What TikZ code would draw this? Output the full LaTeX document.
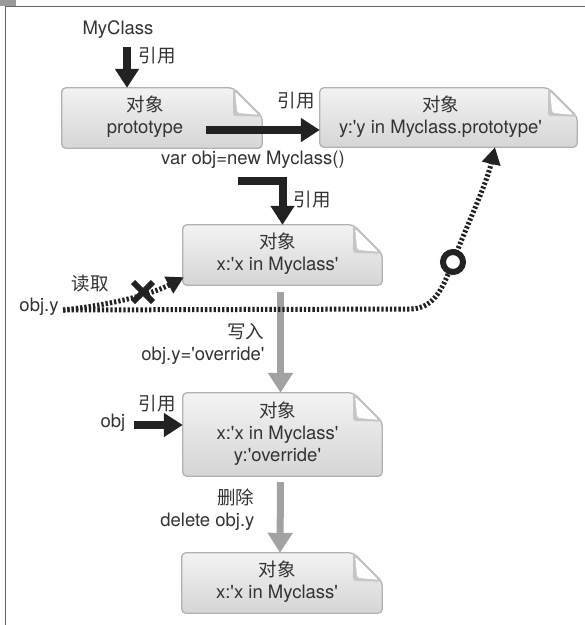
\documentclass[tikz,border=0pt]{standalone}
\usepackage{fontspec}
\setmainfont{TeX Gyre Heros}[Ligatures=TeXOff]
\newfontfamily\cjk{Noto Sans CJK SC}[Scale=1.0]
\usetikzlibrary{arrows.meta,calc,backgrounds,shapes.misc}

\definecolor{ink}{HTML}{222222}
\definecolor{txt}{HTML}{333333}
\definecolor{boxtop}{HTML}{F3F3F3}
\definecolor{boxbot}{HTML}{D5D5D5}
\definecolor{boxline}{HTML}{B2B2B2}
\definecolor{flow}{HTML}{A2A2A2}
\definecolor{framecol}{HTML}{666666}
\definecolor{tabcol}{HTML}{9A9A9A}

\newcommand\zh[1]{{\cjk #1}}
% centred lines of a note, pushed left by half of #2
\newcommand\objlines[2]{\begin{tabular}{@{}c@{}}#1\end{tabular}\hspace*{#2}}
% note sheet with a folded top-right corner behind node #1
\newcommand\docshape[1]{%
  \shadedraw[top color=boxtop, bottom color=boxbot, draw=boxline,
             line width=1.3pt, rounded corners=4pt]
    (#1.south west) -- (#1.north west) -- ([xshift=-29pt]#1.north east)
    -- ([yshift=-29pt]#1.north east) -- (#1.south east) -- cycle;
  \fill[gray!45, rounded corners=2pt]
    ([xshift=-29pt]#1.north east) -- ([xshift=-29pt,yshift=-28pt]#1.north east)
    -- ([yshift=-29pt]#1.north east) -- cycle;
  \fill[white, rounded corners=2pt]
    ([xshift=-27pt,yshift=-4pt]#1.north east) -- ([xshift=-25pt,yshift=-25pt]#1.north east)
    -- ([xshift=-4pt,yshift=-27pt]#1.north east) -- cycle;
}

\tikzset{
  every node/.style={font=\fontsize{18.5}{22}\selectfont, text=txt},
  objbox/.style={inner sep=0pt, minimum height=60pt},
  refarrow/.style={line width=8pt, draw=ink, -{Triangle[width=23pt,length=19pt]}},
  flowarrow/.style={line width=7pt, draw=flow, -{Triangle[width=24pt,length=20pt]}},
  dotline/.style={line width=5pt, draw=ink, dash pattern=on 2.3pt off 2pt},
  dottip/.style={-{Triangle[width=18pt,length=17pt]}},
  ring/.style={circle, draw=ink, fill=white, line width=6pt, minimum size=20pt, inner sep=0pt},
  crossmark/.style={cross out, draw=ink, line width=6pt, minimum size=14pt, inner sep=0pt},
}

\begin{document}
\begin{tikzpicture}[x=1pt, y=-1pt]
\useasboundingbox (0,0) rectangle (585,625);

% frame
\fill[tabcol] (0,0) rectangle (16,6);
\draw[framecol, line width=1.8pt] (5.5,625) -- (5.5,6.5) -- (585,6.5);

% notes
\node[objbox, minimum width=200pt] (proto) at (162,118)
  {\objlines{\zh{对象}\\prototype}{34pt}};
\node[objbox, minimum width=257pt, minimum height=59pt] (protoobj) at (448.5,117.5)
  {\objlines{\zh{对象}\\y:'y in Myclass.prototype'}{16pt}};
\node[objbox, minimum width=199pt] (obj1) at (282.5,255)
  {\objlines{\zh{对象}\\x:'x in Myclass'}{10pt}};
\node[objbox, minimum width=199pt, minimum height=83pt] (obj2) at (282.5,434.5)
  {\objlines{\zh{对象}\\x:'x in Myclass'\\y:'override'}{10pt}};
\node[objbox, minimum width=200pt] (obj3) at (282,583)
  {\objlines{\zh{对象}\\x:'x in Myclass'}{10pt}};

\begin{scope}[on background layer]
  \docshape{proto}
  \docshape{protoobj}
  \docshape{obj1}
  \docshape{obj2}
  \docshape{obj3}
\end{scope}

% labels
\node (myclass) at (118,30) {MyClass};
\node (ref1) at (157,56) {\zh{引用}};
\node (ref2) at (296,101) {\zh{引用}};
\node (newcall) at (253,160) {var obj=new Myclass()};
\node (ref3) at (312,200) {\zh{引用}};
\node (readlbl) at (90,284) {\zh{读取}};
\node (objy) at (39,307) {obj.y};
\node[align=right, anchor=east] (write) at (268,344) {\zh{写入}\\obj.y='override'};
\node (ref4) at (157,404) {\zh{引用}};
\node (objref) at (113,423) {obj};
\node[align=right, anchor=east] (del) at (258,510) {\zh{删除}\\delete obj.y};

% reference arrows
\draw[refarrow] ([xshift=9pt,yshift=-5pt]myclass.south) -- ([xshift=9pt]myclass.south |- proto.north);
\draw[refarrow] ([xshift=44pt,yshift=-12pt]proto.center) -- ([yshift=-12pt]proto.center -| protoobj.west);
\draw[refarrow] ([xshift=-15pt,yshift=-21pt]newcall.center) -| (obj1.north);
\draw[refarrow] ([xshift=5pt,yshift=-2pt]objref.east) -- ([yshift=-2pt]objref.east -| obj2.west);

% state changes
\draw[flowarrow] ([xshift=-2pt,yshift=-7pt]obj1.south) -- ([xshift=-2pt]obj2.north);
\draw[flowarrow] ([xshift=-2pt,yshift=-6pt]obj2.south) -- ([xshift=-2pt]obj3.north);

% property lookup
\draw[dotline, dottip] ([xshift=1pt,yshift=-3pt]objy.east)
  .. controls (110,305) and (150,295) .. ([xshift=1pt,yshift=8pt]obj1.south west);
\draw[dotline, dottip] ([xshift=1pt,yshift=-3pt]objy.east) -- (410,309)
  .. controls (436,309) and (444,284) .. (453,262)
  .. controls (463,234) and (486,186) .. ([xshift=46.5pt]protoobj.south);
\node[crossmark] (blocked) at (143,292) {};
\node[ring] (found) at (453,262) {};
\end{tikzpicture}
\end{document}
